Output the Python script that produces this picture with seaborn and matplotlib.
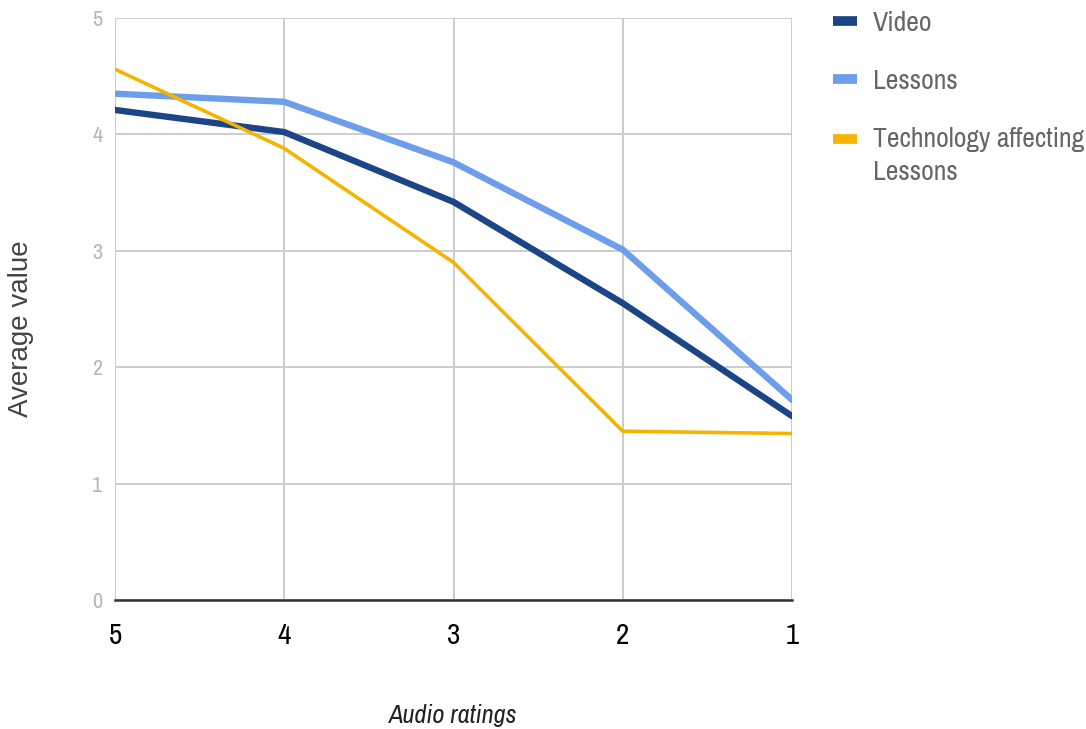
import matplotlib
matplotlib.use("Agg")
import matplotlib.pyplot as plt
import seaborn as sns
import pandas as pd
import numpy as np
from matplotlib import font_manager
from matplotlib.lines import Line2D
from matplotlib.legend_handler import HandlerLine2D

ratings = [5, 4, 3, 2, 1]
video = [4.21, 4.02, 3.42, 2.55, 1.58]
lessons = [4.35, 4.28, 3.76, 3.01, 1.72]
tech = [4.56, 3.88, 2.90, 1.45, 1.43]
series_names = ["Video", "Lessons", "Technology affecting\nLessons"]
colors = ["#1c4587", "#6d9eeb", "#f4b400"]
widths = [4.6, 4.6, 2.6]

names = sorted({f.name for f in font_manager.fontManager.ttflist})
cond = [n for n in names if "Condensed" in n or "Narrow" in n]

sns.set_theme(style="white")
cfont = cond[0] if cond else "Roboto"
plt.rcParams["font.family"] = [cfont, "DejaVu Sans"]

df = pd.DataFrame({
    "rating": ratings * 3,
    "value": video + lessons + tech,
    "series": [series_names[0]] * 5 + [series_names[1]] * 5 + [series_names[2]] * 5,
})

fig = plt.figure(figsize=(10.86, 7.29), dpi=100)
ax = fig.add_axes([115 / 1086, 1 - 600 / 729, (792 - 115) / 1086, (600 - 18) / 729])
sns.lineplot(data=df, x="rating", y="value", hue="series", palette=colors,
             hue_order=series_names, ax=ax, legend=False)
for line, w in zip(ax.lines, widths):
    line.set_linewidth(w)
    line.set_solid_joinstyle("miter")

ax.set_xlim(5, 1)
ax.set_ylim(0, 5)
ax.set_xticks(ratings)
ax.set_yticks([0, 1, 2, 3, 4, 5])
ax.grid(True, color="#cccccc", linewidth=1.4)
ax.set_axisbelow(True)
for s in ["left", "right", "top"]:
    ax.spines[s].set_visible(False)
ax.spines["bottom"].set_color("#333333")
ax.spines["bottom"].set_linewidth(1.8)
ax.tick_params(axis="y", colors="#b7b7b7", labelsize=16, length=0, pad=9)
ax.tick_params(axis="x", colors="#000000", labelsize=21, length=0, pad=16)
ax.set_xlabel("Audio ratings", fontsize=19, style="italic", color="#222222")
ax.xaxis.set_label_coords(0.5, -0.178)
ax.set_ylabel("Average value", fontsize=20, color="#444444",
              family=["Liberation Sans", "DejaVu Sans"])
ax.yaxis.set_label_coords(-0.12, 0.466)


class ShiftedHandler(HandlerLine2D):
    def __init__(self, dy, **kw):
        super().__init__(**kw)
        self.dy = dy

    def create_artists(self, legend, orig_handle, xdescent, ydescent, width, height,
                       fontsize, trans):
        arts = super().create_artists(legend, orig_handle, xdescent, ydescent, width,
                                      height, fontsize, trans)
        for a in arts:
            if isinstance(a, Line2D):
                a.set_ydata(np.asarray(a.get_ydata(), dtype=float) + self.dy)
        return arts


handles = [Line2D([], [], color=c, linewidth=7, solid_capstyle="butt") for c in colors]
leg = fig.legend(handles, series_names, loc="upper left", bbox_to_anchor=(822 / 1086, 1.0),
                 frameon=False, fontsize=20, handlelength=0.86, handletextpad=0.58,
                 labelspacing=1.18, borderaxespad=0, labelcolor="#666666",
                 handler_map={handles[2]: ShiftedHandler(12.2)})
for t in leg.get_texts():
    t.set_linespacing(1.41)
fig.savefig("out.png", dpi=100)
